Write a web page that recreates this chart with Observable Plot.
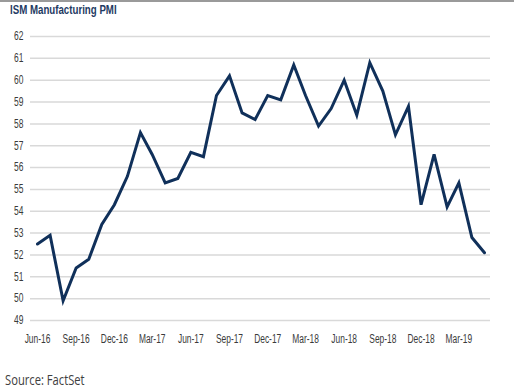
<!DOCTYPE html>
<html>
<head>
<meta charset="utf-8">
<script src="https://cdn.jsdelivr.net/npm/d3@7"></script>
<script src="https://cdn.jsdelivr.net/npm/@observablehq/plot@0.6"></script>
<style>
  html, body { margin: 0; padding: 0; background: #fff; }
  #wrap { position: relative; width: 514px; height: 389px; border-top: 2px solid #9a9a9a; box-sizing: border-box; }
  #title { position: absolute; left: 10px; top: 0px; font-family: "Liberation Sans", Arial, sans-serif; font-weight: bold; font-size: 13.5px; color: #1f3b63; white-space: nowrap; transform-origin: 0 0; }
  #chart { position: absolute; left: 0; top: -2px; }
  #source { position: absolute; left: 5px; top: 371px; line-height: 14px; font-family: "Open Sans", sans-serif; font-size: 14px; color: #404040; white-space: nowrap; transform-origin: 0 0; }
</style>
</head>
<body>
<div id="wrap">
  <div id="chart"></div>
  <div id="title">ISM Manufacturing PMI</div>
  <div id="source">Source: FactSet</div>
</div>
<script>
const months = [
  "2016-06","2016-07","2016-08","2016-09","2016-10","2016-11","2016-12",
  "2017-01","2017-02","2017-03","2017-04","2017-05","2017-06","2017-07","2017-08","2017-09","2017-10","2017-11","2017-12",
  "2018-01","2018-02","2018-03","2018-04","2018-05","2018-06","2018-07","2018-08","2018-09","2018-10","2018-11","2018-12",
  "2019-01","2019-02","2019-03","2019-04","2019-05"
];
const pmi = [
  52.5, 52.9, 49.9, 51.4, 51.8, 53.4, 54.3,
  55.6, 57.6, 56.6, 55.3, 55.5, 56.7, 56.5, 59.3, 60.2, 58.5, 58.2, 59.3,
  59.1, 60.7, 59.3, 57.9, 58.7, 60.0, 58.4, 60.8, 59.5, 57.5, 58.8, 54.3,
  56.6, 54.2, 55.3, 52.8, 52.1
];
const xTicks = ["2016-06","2016-09","2016-12","2017-03","2017-06","2017-09","2017-12","2018-03","2018-06","2018-09","2018-12","2019-03"];
const yTicks = [49, 50, 51, 52, 53, 54, 55, 56, 57, 58, 59, 60, 61, 62];

const parse = d3.utcParse("%Y-%m");
const data = months.map((m, i) => ({date: parse(m), value: pmi[i]}));

const chart = Plot.plot({
  width: 514,
  height: 358,
  marginTop: 36,
  marginBottom: 38,
  marginLeft: 30,
  marginRight: 24,
  style: {fontFamily: "'Liberation Sans', Arial, sans-serif", fontSize: "12px", color: "#3a3a3a", background: "transparent"},
  x: {
    type: "utc",
    domain: [parse(months[0]), parse(months[months.length - 1])],
    insetLeft: 7,
    insetRight: 6,
    label: null
  },
  y: {
    domain: [49, 62],
    label: null
  },
  marks: [
    Plot.ruleY(yTicks, {stroke: "#d9d9d9", strokeWidth: 1.5}),
    Plot.axisX({ticks: xTicks.map(parse), tickFormat: d3.utcFormat("%b-%y"), tickSize: 0, tickPadding: 14, label: null, fill: "#3a3a3a"}),
    Plot.axisY({ticks: yTicks, tickSize: 0, tickPadding: 7, label: null, fill: "#3a3a3a"}),
    Plot.line(data, {x: "date", y: "value", stroke: "#10305a", strokeWidth: 3, strokeLinejoin: "miter", strokeMiterlimit: 4})
  ]
});
document.getElementById("chart").appendChild(chart);

// narrow the tick labels horizontally, like the condensed face of the original
chart.querySelectorAll("text").forEach(t => {
  const len = t.getComputedTextLength();
  if (len > 0) {
    t.setAttribute("textLength", (len * 0.7).toFixed(1));
    t.setAttribute("lengthAdjust", "spacingAndGlyphs");
  }
});
const title = document.getElementById("title");
title.style.transform = `scaleX(${107 / title.offsetWidth})`;
const source = document.getElementById("source");
source.style.transform = `scaleX(${80 / source.offsetWidth})`;
</script>
</body>
</html>
